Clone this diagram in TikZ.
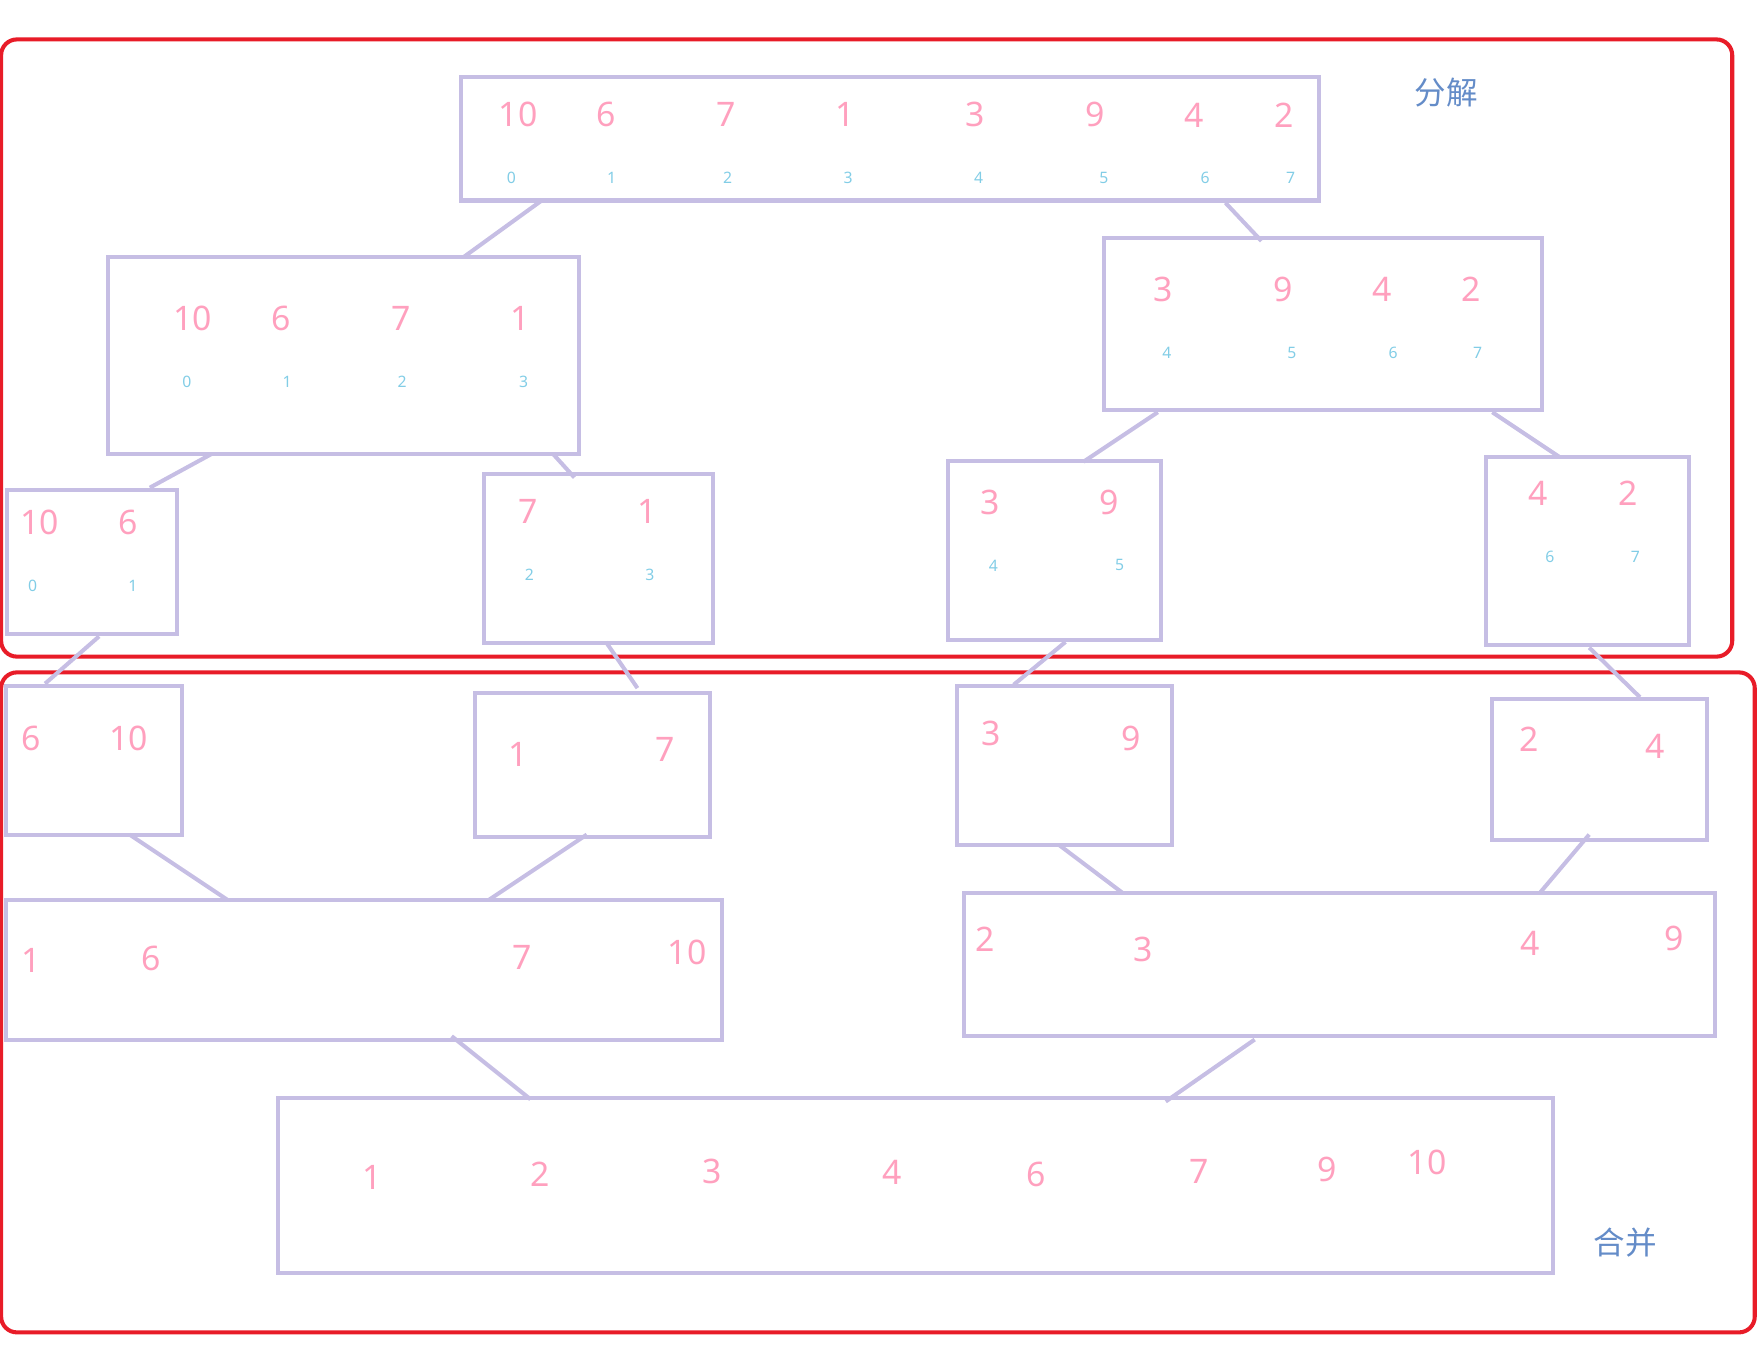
\documentclass[tikz,border=0pt]{standalone}
\usepackage{fontspec}
\setmainfont{Noto Sans}
\newfontfamily\cjk{Noto Sans CJK SC}
\definecolor{bx}{RGB}{198,190,228}
\definecolor{pk}{RGB}{255,160,190}
\definecolor{ix}{RGB}{130,205,230}
\definecolor{rd}{RGB}{232,28,40}
\definecolor{lb}{RGB}{100,140,200}
\tikzset{x=0.5pt,y=-0.5pt,
 bx/.style={draw=bx,line width=1.8pt},
 cn/.style={draw=bx,line width=1.8pt},
 frame/.style={draw=rd,line width=1.8pt,rounded corners=7pt},
 num/.style={text=pk,font=\fontsize{15}{15}\selectfont,inner sep=0pt},
 idx/.style={text=ix,font=\fontsize{7}{7}\selectfont,inner sep=0pt},
 lbl/.style={text=lb,font=\cjk\fontsize{14}{14}\selectfont,inner sep=0pt}}
\newcommand\bxn[5]{\path[bx] (#2,#3) rectangle (#4,#5); \coordinate (#1) at (#2,#3);}
\newcommand\nums[3]{\foreach \x/\t in {#3} \node[#1] at (\x,#2) {\t};}
\begin{document}
\begin{tikzpicture}
\useasboundingbox (0,0) rectangle (1560,1203);
\path[frame] (1,35) rectangle (1538,583);
\path[frame] (1,597) rectangle (1558,1183);
\bxn{A}{409}{68}{1171}{178}
\bxn{B}{96}{228}{514}{403}
\bxn{C}{980}{211}{1369}{364}
\bxn{D}{6}{435}{157}{563}
\bxn{E}{430}{421}{633}{571}
\bxn{F}{842}{409}{1031}{568}
\bxn{G}{1319}{406}{1500}{573}
\bxn{H}{5}{609}{162}{741}
\bxn{I}{422}{615}{630}{743}
\bxn{J}{850}{609}{1041}{750}
\bxn{K}{1325}{621}{1516}{746}
\bxn{L}{5}{799}{641}{923}
\bxn{M}{856}{793}{1523}{920}
\bxn{N}{247}{975}{1379}{1130}
\foreach \a/\b/\c/\d in {481/178/412/228,1088/180/1120/214,188/403/133/433,491/403/510/424,
 1028/366/962/410,1325/366/1385/406,88/565/40/607,538/570/566/611,946/570/900/608,
 1411/575/1456/619,115/741/202/799,521/741/434/799,940/750/997/793,1411/741/1367/793,
 401/920/471/976,1114/923/1035/978}
 \draw[cn] (\a,\b) -- (\c,\d);
\nums{num}{102}{460/10,538/6,645/7,750/1,866/3,972/9,1060/4,1140/2}
\nums{idx}{158}{454/0,543/1,646/2,753/3,869/4,980/5,1070/6,1146/7}
\nums{num}{283}{171/10,250/6,356/7,462/1}
\nums{idx}{339}{166/0,255/1,357/2,465/3}
\nums{num}{257}{1033/3,1139/9,1227/4,1306/2}
\nums{idx}{313}{1036/4,1147/5,1237/6,1312/7}
\nums{num}{464}{35/10,114/6}
\nums{idx}{520}{29/0,118/1}
\nums{num}{454}{469/7,575/1}
\nums{idx}{510}{470/2,577/3}
\nums{num}{446}{879/3,985/9}
\nums{idx}{502}{882/4,994/5}
\nums{num}{438}{1366/4,1446/2}
\nums{idx}{494}{1376/6,1452/7}
\nums{num}{656}{28/6,114/10}
\node[num] at (460,670) {1}; \node[num] at (591,665) {7};
\node[num] at (880,651) {3}; \node[num] at (1004,656) {9};
\node[num] at (1358,656) {2}; \node[num] at (1470,663) {4};
\node[num] at (28,853) {1}; \node[num] at (134,851) {6};
\node[num] at (464,850) {7}; \node[num] at (610,846) {10};
\node[num] at (875,834) {2}; \node[num] at (1015,843) {3};
\node[num] at (1359,838) {4}; \node[num] at (1486,833) {9};
\node[num] at (330,1045) {1}; \node[num] at (480,1043) {2};
\node[num] at (632,1040) {3}; \node[num] at (792,1041) {4};
\node[num] at (920,1043) {6}; \node[num] at (1065,1040) {7};
\node[num] at (1178,1038) {9}; \node[num] at (1267,1032) {10};
\node[lbl] (t1) at (1284,82) {分解};
\node[lbl] (t2) at (1443,1103) {合并};
\end{tikzpicture}
\end{document}
